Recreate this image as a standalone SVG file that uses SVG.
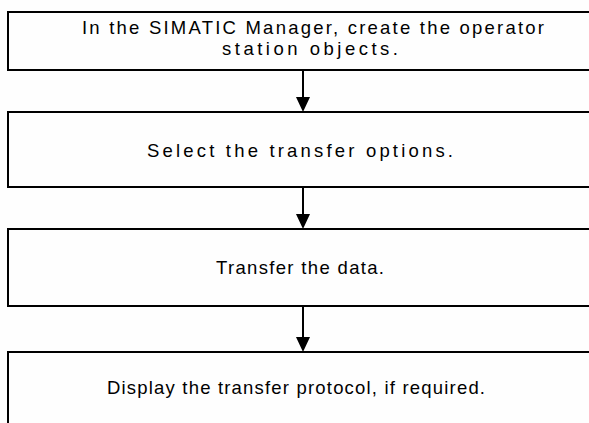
<svg xmlns="http://www.w3.org/2000/svg" width="589" height="423" viewBox="0 0 589 423">
<defs>
<style>
.box{fill:#fefefe;stroke:#000;stroke-width:2}
.t{font-family:"Liberation Sans",Arial,sans-serif;font-size:18.5px;fill:#000;text-anchor:middle}
.c{stroke:#000;stroke-width:2;fill:none}
.h{fill:#000}
</style>
</defs>
<rect width="589" height="423" fill="#fefefe"/>
<g id="n1">
<rect class="box" x="8" y="12" width="590" height="58"/>
<text class="t" x="313" y="34" textLength="462" lengthAdjust="spacing">In the SIMATIC Manager, create the operator</text>
<text class="t" x="310" y="55" textLength="176" lengthAdjust="spacing">station objects.</text>
</g>
<g id="n2">
<rect class="box" x="8" y="112" width="590" height="75"/>
<text class="t" x="300" y="157" textLength="306" lengthAdjust="spacing">Select the transfer options.</text>
</g>
<g id="n3">
<rect class="box" x="8" y="229" width="590" height="77"/>
<text class="t" x="300" y="274" textLength="168" lengthAdjust="spacing">Transfer the data.</text>
</g>
<g id="n4">
<rect class="box" x="8" y="352" width="590" height="90"/>
<text class="t" x="296" y="394" textLength="378" lengthAdjust="spacing">Display the transfer protocol, if required.</text>
</g>
<g id="connectors">
<line class="c" x1="303" y1="70" x2="303" y2="99"/>
<polygon class="h" points="296,97 310,97 303,112"/>
<line class="c" x1="303" y1="187" x2="303" y2="216"/>
<polygon class="h" points="296,214 310,214 303,229"/>
<line class="c" x1="303" y1="306" x2="303" y2="339"/>
<polygon class="h" points="296,337 310,337 303,352"/>
</g>
</svg>
